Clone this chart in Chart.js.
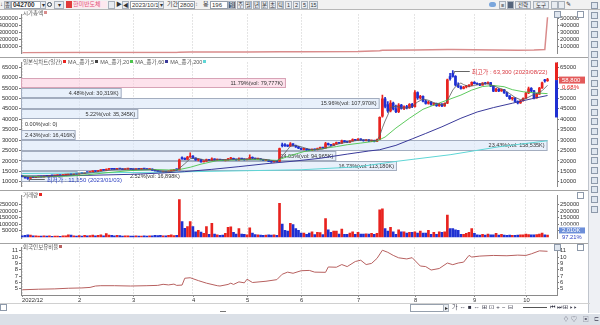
<!DOCTYPE html>
<html lang="ko">
<head>
<meta charset="utf-8">
<title>042700 한미반도체</title>
<script src="https://cdn.jsdelivr.net/npm/chart.js"></script>
<style>
  html, body { margin: 0; padding: 0; }
  body { position: relative; width: 600px; height: 325px; overflow: hidden; background: #fff;
         font-family: "Liberation Sans", "Noto Sans CJK KR", sans-serif; color: #333; }
  canvas { position: absolute; left: 0; }
  .t { position: absolute; font-size: 6px; line-height: 7px; white-space: nowrap; }
  .ib { position: absolute; top: 1px; height: 6px; border: 1px solid #96a0ad; background: #fff; font-size: 6px; line-height: 6px; padding-left: 1px; white-space: nowrap; }
  .bt { position: absolute; top: 1px; height: 6px; border: 1px solid #a9b1bb; background: #e8ecf1; font-size: 5.5px; line-height: 6px; text-align: center; white-space: nowrap; }
  .sq { display: inline-block; width: 3px; height: 3px; margin: 0 2px 0 1px; vertical-align: 1px; }
  .hl { position: absolute; left: 0; width: 590px; height: 1px; background: #a3a3a3; }
  .ic { position: absolute; width: 5px; height: 5px; border: 1px solid #8d99aa; background: #dfe6ef; }
</style>
</head>
<body>
<!-- toolbar -->
<div style="position:absolute;left:0;top:0;width:600px;height:9px;background:#f1f1f1;border-bottom:1px solid #b7b7b7"></div>
<span class="t" style="left:0;top:1px">↓</span>
<span class="bt" style="left:4px;width:5px">종</span>
<span class="ib" style="left:11px;width:27px;font-weight:bold;font-size:6.5px">042700</span>
<span class="bt" style="left:40px;width:4px">▾</span>
<span style="position:absolute;left:47px;top:2px;width:3px;height:3px;border:1px solid #345;border-radius:50%"></span>
<span class="bt" style="left:54px;width:8px">▾</span>
<span style="position:absolute;left:66px;top:1px;width:6px;height:7px;background:#e03a3a"></span>
<span class="t" style="left:73px;top:1px;width:34px;color:#e2557a;background:#fde8ee">한미반도체</span>
<span class="bt" style="left:108px;width:5px"></span>
<span class="t" style="left:116px;top:1px">▶</span>
<span class="bt" style="left:122px;width:5px">◀</span>
<span class="ib" style="left:130px;width:27px">2023/10/17</span>
<span class="bt" style="left:158px;width:4px">▾</span>
<span class="t" style="left:167px;top:1px">기간</span>
<span class="ib" style="left:178px;width:14px">2800</span>
<span class="t" style="left:195px;top:1px;color:#999">↕</span>
<span class="t" style="left:203px;top:1px">봉</span>
<span class="ib" style="left:210px;width:15px">196</span>
<span class="bt" style="left:228px;width:6px;background:#4c5c74;color:#fff">일</span>
<div id="tbBtns"></div>
<span style="position:absolute;left:489px;top:2px;width:7px;height:5px;border-radius:3px;background:#7aa6dc"></span>
<span class="bt" style="left:499px;width:5px">≡</span>
<span class="bt" style="left:507px;width:5px;background:#56657c"></span>
<span class="bt" style="left:515px;width:14px">전략</span>
<span class="bt" style="left:533px;width:14px">도구</span>
<span class="bt" style="left:551px;width:5px"></span>
<span class="bt" style="left:558px;width:5px"></span>
<span class="t" style="left:566px;top:1px">✎</span>

<canvas id="cap" width="590" height="48" style="top:10px"></canvas>
<canvas id="price" width="590" height="133" style="top:58px"></canvas>
<canvas id="vol" width="590" height="52" style="top:191px"></canvas>
<canvas id="ratio" width="590" height="60" style="top:243px"></canvas>

<div class="hl" style="top:57px"></div>
<div class="hl" style="top:190px"></div>
<div class="hl" style="top:243px"></div>

<!-- panel titles -->
<span class="t" style="left:23px;top:10px;color:#555;font-size:5.5px">시가총액<i class="sq" style="background:#d98c8c"></i></span>
<span class="t" style="left:23px;top:58.5px;color:#555;font-size:5.5px">일본식차트(일간)<i class="sq" style="background:#e8231f"></i>MA_종가,5<i class="sq" style="background:#444"></i>MA_종가,20<i class="sq" style="background:#4cc44c"></i>MA_종가,60<i class="sq" style="background:#3a3a9a"></i>MA_종가,200<i class="sq" style="background:#5fd6d6"></i></span>
<span class="t" style="left:23px;top:191.5px;color:#555;font-size:5.5px">거래량<i class="sq" style="background:#e8231f"></i></span>
<span class="t" style="left:23px;top:243.5px;color:#555;font-size:5.5px">외국인보유비율<i class="sq" style="background:#b7605f"></i></span>

<!-- panel buttons -->
<span class="ic" style="left:554px;top:11px"></span>
<span class="ic" style="left:577px;top:11px;background:#fff"></span>
<span class="ic" style="left:577px;top:192px;background:#fff"></span>
<span class="ic" style="left:577px;top:244px;background:#fff"></span>
<span class="ic" style="left:554px;top:244px"></span>

<!-- right tool strip -->
<div style="position:absolute;left:588px;top:10px;width:12px;height:303px;background:#eef0f4;border-left:1px solid #bfc4cc"></div>
<div id="strip"></div>

<!-- bottom controls -->
<div style="position:absolute;left:0;top:303px;width:590px;height:1px;background:#d0d0d0"></div>
<span class="ic" style="left:0;top:304px;background:#fff"></span>
<span class="ib" style="left:410px;top:304px;width:32px"></span>
<span class="bt" style="left:443px;top:304px;width:4px">▸</span>
<span class="t" style="left:452px;top:303.5px;letter-spacing:2.2px;color:#334">가⇔■⇔⊞⊡+−⊟</span>
<div style="position:absolute;left:523px;top:307px;width:24px;height:1px;background:#555"></div>
<span class="t" style="left:550px;top:303.5px;letter-spacing:1.5px;color:#334">⏮⏭⊞▸▸</span>
<div style="position:absolute;left:0;top:314px;width:600px;height:11px;background:#dbe0e7"></div>
<div style="position:absolute;left:220px;top:311px;width:6px;height:1px;background:#777"></div>
<span class="t" style="left:563px;top:316px;color:#667;letter-spacing:2px">♢♡ ▣ ⊏</span>

<script>
const FONT = '"Liberation Sans", "Noto Sans CJK KR", sans-serif';
const RED = '#e8231f';
const BLUE = '#1f30d2';

// x axis: first bar of each month and its label
const monthStarts = [0, 21, 41, 63, 83, 103, 124, 145, 167, 186];
const monthLabels = ['2022/12', '2', '3', '4', '5', '6', '7', '8', '9', '10'];

// daily candles [open, high, low, close], 2022/12/29 .. 2023/10/17
const candles = [
  [12900,13100,12400,12500],[12500,12550,11800,11900],[11900,12050,11150,11700],[11700,12250,11650,12150],[12150,12400,11950,12050],
  [12050,12550,12000,12450],[12450,12700,12300,12600],[12600,12650,12350,12400],[12400,12850,12350,12750],[12750,12950,12600,12700],
  [12700,13050,12650,12950],[12950,13150,12800,12850],[12850,13050,12700,13000],[13000,13250,12900,13150],[13150,13300,12950,13000],
  [13000,13450,12950,13350],[13350,13550,13200,13450],[13450,13750,13400,13650],[13650,13800,13450,13550],[13550,13950,13500,13850],
  [13850,14000,13650,13750],
  // Feb
  [13750,14250,13700,14150],[14150,14300,13950,14050],[14050,14600,14000,14500],[14500,14700,14300,14400],
  [14400,14950,14350,14850],[14850,15250,14750,15150],[15150,15200,14850,14950],[14950,15500,14900,15400],[15400,15800,15300,15700],
  [15700,15850,15450,15550],[15550,16200,15500,16050],[16050,16350,15900,16200],[16200,16400,15950,16050],[16050,16300,15850,15950],
  [15950,16350,15900,16250],[16250,16450,16050,16150],[16150,16250,15850,15900],[15900,16200,15850,16100],[16100,16350,16000,16250],
  [16250,16350,15950,16000],
  // Mar
  [16000,16150,15750,15850],[15850,16200,15800,16100],[16100,16300,15950,16000],[16000,16250,15900,16200],
  [16200,16400,16050,16100],[16100,16200,15800,15900],[15900,16250,15850,16150],[16150,16200,15500,15600],[15600,15700,15100,15200],
  [15200,15350,14800,14900],[14900,15050,14550,14650],[14650,14950,14500,14850],[14850,15000,14600,14700],[14700,15250,14650,15150],
  [15150,15600,15100,15500],[15500,15900,15400,15800],[15800,16200,15650,15750],[15750,20900,15700,20600],[21600,22000,20800,21100],
  [21300,21500,20600,20800],[20800,22200,20700,21900],[21900,23900,21700,22300],
  // Apr
  [22300,22600,21200,21400],[21400,21500,20300,20500],
  [20500,21000,20000,20700],[20700,20800,19400,19600],[19600,20100,19500,19900],[19900,20900,19800,20700],[20700,20800,20200,20300],
  [20300,21500,20200,21000],[21000,21100,20400,20500],[20500,20900,20300,20800],[20800,20850,20350,20400],[20400,20500,20100,20200],
  [20200,20600,20000,20500],[20500,21300,20400,21100],[21100,21700,20900,21300],[21300,21400,20600,20800],[20800,20900,20400,20500],
  [20500,21500,20400,21200],[21200,21300,20700,20900],[20900,21000,20400,20600],
  // May
  [20600,20900,20500,20800],[20800,23000,20700,21800],
  [21800,22000,21100,21300],[21300,21400,20700,20900],[20900,21200,20700,21100],[21100,21200,20500,20600],[20600,20700,20100,20300],
  [20300,20600,20100,20400],[20400,20500,19700,19800],[19800,19900,19300,19500],[19500,19900,19400,19800],[19800,20000,19500,19700],
  [19800,26200,19700,25900],[27800,28600,26800,27300],[27900,28300,27000,27200],[27600,27800,26900,27100],[27100,28800,27000,28200],
  [28200,28400,27100,27300],[27400,27600,26500,26700],[26800,27000,25900,26100],
  // Jun
  [26100,26300,25400,25600],[25600,26000,25300,25800],
  [25800,25900,25100,25300],[25300,25500,24900,25100],[25100,25800,25000,25600],[25600,25700,25200,25400],[25400,26200,25300,26000],
  [26000,26700,25900,26500],[26500,26600,26000,26200],[26200,29000,26100,28400],[28400,28600,27600,27800],[27800,28000,27300,27500],
  [27500,28400,27400,28200],[28200,29100,28000,28800],[28800,28900,28300,28500],[28500,30000,28400,29600],[29600,29800,29000,29200],
  [29200,29400,28800,29000],[29000,29800,28900,29600],[29600,30600,29500,30300],[30300,30400,29700,29900],
  // Jul
  [29900,30700,29800,30500],
  [30500,30600,29900,30100],[30100,30200,29500,29700],[29700,30300,29600,30200],[30200,30300,29400,29500],[29500,30000,29300,29900],
  [29900,30000,29200,29400],[29400,30500,29300,30300],[30300,41200,30200,40900],[41500,51600,41000,49800],[49800,50500,45500,46200],
  [47000,48500,43300,44000],[44000,49000,43500,47800],[47800,48200,44500,45000],[45000,46800,43200,43600],[43600,47500,43200,46800],
  [46800,47200,44800,45200],[45200,46500,44600,46100],[46100,46700,45000,45400],[45400,47500,45200,47200],[47200,47600,45600,46000],
  // Aug
  [46000,53800,45800,52800],[52800,53200,49500,50200],[50200,51500,49600,51000],[51000,51300,48300,48700],[48700,49200,47200,47600],
  [47600,48700,47300,48300],[48300,48500,46800,47100],[47100,47900,46600,47600],[47600,47800,46200,46500],[46500,47600,46200,47300],
  [47300,47500,46100,46400],[46400,47900,46200,47700],[47700,59300,47500,58900],[60500,62000,58800,59500],[62000,63300,60200,60600],
  [60600,60900,56000,56500],[56500,57500,55200,55600],[55600,56000,54400,54800],[54800,55800,54500,55500],[55500,56300,55000,55900],
  [55900,56600,55500,56300],[56300,58000,56100,57700],
  // Sep
  [57700,58100,56900,57100],[57100,57500,56500,56800],[56800,57200,56100,56400],
  [56400,57600,56300,57400],[57400,57700,56800,57000],[57000,57900,56900,57600],[57600,57700,55600,55900],[55900,56100,53200,53500],
  [53500,54800,53200,54500],[54500,54700,53300,53600],[53600,54500,53400,54200],[54200,54300,52400,52700],[52700,53000,50800,51200],
  [51200,51400,49500,49900],[49900,50500,49200,50200],[50200,50400,48300,48600],[48600,48900,47400,47800],[47800,49200,47600,48900],
  [48900,50300,48700,50100],
  // Oct
  [50100,52900,50000,52600],[52600,55500,52300,54600],[54800,55200,53300,53600],[53600,53900,49800,50300],
  [50300,52400,50100,52100],[52100,55300,51900,55000],[55000,57800,54800,57500],[58700,59100,57800,58400],[58500,59600,58100,58800]
];

const volumes = [
  9000,12000,16000,14000,8000, 9000,7000,6000,8000,6000, 9000,5000,6000,7000,5000, 8000,9000,15000,14000,9000,
  7000,10000,6000,12000,8000, 10000,14000,8000,11000,16000, 9000,25000,14000,12000,9000, 11000,10000,7000,9000,8000,
  7000,6000,8000,7000,6000, 9000,6000,8000,9000,11000, 10000,12000,9000,8000,12000, 15000,10000,11000,
  290000,120000,66000,80000,120000, 80000,40000,50000,37000,28000, 80000,20000,105000,22000,15000,
  12000,14000,28000,75000,78000, 35000,22000,65000,22000,20000, 15000,70000,30000,18000,16000,
  14000,12000,13000,15000,14000, 16000,12000,
  262000,100000,50000,45000,105000, 95000,65000,50000,30000,30000, 20000,30000,40000,18000,35000,
  33000,18000,143000,55000,35000, 45000,45000,22000,60000,20000, 20000,30000,40000,20000,35000,
  22000,22000,24000,22000,28000, 20000,28000,
  210000,219000,65000,45000,75000, 40000,20000,55000,40000,40000, 30000,35000,35000,40000,30000,
  45000,30000,30000,50000,20000, 35000,20000,40000,35000,40000,
  170000,65000,65000,55000,50000, 20000,20000,28000,35000,65000, 28000,15000,13000,20000,13000,
  22000,15000,15000,28000,13000, 20000,13000,12000,14000,12000, 12000,14000,16000,15000,22000,
  18000,16000,15000,17000,22000, 30000,15000,13000
];

// moving averages, [bar index, value]
const ma5 = [[0,12700],[3,12300],[6,12150],[9,12500],[12,12800],[15,13000],[18,13400],[21,13750],[24,14150],[27,14600],
  [30,15150],[33,15700],[36,16100],[39,16100],[42,16050],[45,16050],[48,15950],[50,15400],[52,15050],[54,14800],[56,15150],
  [57,15500],[58,16500],[60,18700],[62,21100],[64,21400],[66,20900],[68,20300],[70,20300],[73,20700],[76,20600],[78,20800],
  [80,20900],[83,20900],[85,21000],[87,21200],[90,20700],[93,20050],[94,19800],[95,21000],[96,22400],[97,23900],[98,25500],
  [99,27100],[101,27500],[103,26800],[105,26000],[107,25500],[109,25500],[111,25700],[112,26300],[114,27000],[116,27900],
  [118,28600],[120,29000],[122,29500],[124,29900],[126,30100],[128,30000],[130,29800],[131,29900],[132,32000],[133,35900],
  [134,39200],[135,42000],[136,45700],[138,46300],[140,45500],[142,45400],[144,46000],[145,47300],[146,48300],[148,49700],
  [150,49100],[152,47900],[154,47300],[156,46900],[157,49200],[158,51500],[159,54000],[160,55600],[161,56600],[162,57400],
  [163,56600],[165,55700],[167,56200],[169,57000],[172,57100],[174,56100],[176,55000],[178,54100],[180,52300],[182,50500],
  [184,49400],[186,49900],[188,51300],[189,51900],[191,52900],[192,53700],[194,56300]];
const ma20 = [[0,12900],[8,12400],[16,12700],[24,13400],[32,14500],[40,15400],[48,15950],[54,15700],[58,15900],[62,17000],
  [66,18500],[72,20200],[80,20600],[86,20700],[94,20300],[99,22600],[104,24500],[110,25800],[116,26900],[120,27800],
  [125,28600],[131,29600],[134,31500],[138,35800],[143,40500],[148,44800],[153,47300],[158,49700],[162,51600],[166,54000],
  [170,55700],[174,56200],[178,55600],[181,54200],[185,53200],[189,52700],[194,52300]];
const ma60 = [[0,12800],[20,13000],[40,13600],[51,14200],[60,14900],[70,16000],[80,17300],[90,18700],[100,19900],[110,21300],
  [120,23300],[128,24800],[132,25400],[138,27500],[144,30600],[149,33200],[155,36400],[162,40500],[168,43500],[174,45600],
  [181,47700],[188,49800],[194,51400]];
const ma200 = [[0,14000],[50,14600],[103,15800],[124,17200],[138,19800],[158,23000],[176,26800],[194,29700]];

// 시가총액 and 외국인보유비율, [bar index, value]
const marketCap = [[0,12150],[20,13400],[41,15550],[57,15300],[58,20000],[62,21700],[83,20200],[95,25200],[103,24900],
  [124,29600],[132,39800],[133,48400],[145,51300],[157,57200],[159,58900],[167,55500],[183,46500],[189,48900],[193,56800],
  [194,521000]];
const foreignRatio = [[0,4.86],[6,4.95],[12,5.0],[17,5.1],[22,5.15],[25,5.23],[27,5.45],[29,5.5],[34,5.5],[40,5.45],
  [46,5.5],[50,5.55],[52,5.72],[54,5.62],[56,5.75],[57,5.55],[59,5.6],[60,6.67],[62,6.75],[65,6.3],[68,5.9],[72,5.5],
  [73,5.45],[76,5.7],[77,5.9],[78,5.7],[80,6.1],[82,5.95],[83,6.52],[85,6.0],[90,6.2],[94,6.45],[96,7.3],[98,7.63],
  [100,7.45],[103,7.85],[106,7.9],[108,7.63],[112,7.6],[113,8.44],[116,8.4],[118,8.82],[120,8.5],[123,9.3],[125,9.5],
  [127,8.82],[129,9.0],[131,9.78],[133,11.07],[135,10.74],[137,10.26],[139,9.88],[142,9.7],[144,9.9],[147,8.59],
  [149,8.5],[151,7.96],[154,8.2],[157,9.06],[159,8.8],[161,9.06],[163,9.2],[165,10.26],[166,10.0],[169,10.15],
  [174,10.25],[179,10.2],[183,10.3],[186,10.25],[188,10.5],[191,10.97],[194,10.9]];

// price / volume bands (매물대)
const bandSize = 5000;
const bandLow = [55000, 50000, 45000, 40000, 35000, 30000, 25000, 20000, 15000, 10000];
const bandPct = [11.79, 4.48, 15.96, 5.22, 0.00, 2.43, 23.43, 14.03, 16.73, 2.52];
const bandVol = ['79,777K', '30,319K', '107,970K', '35,345K', '0', '16,416K', '158,535K', '94,965K', '113,180K', '16,898K'];

const highNote = { label: '최고가', date: '2023/08/22' };
const lowNote = { label: '최저가', date: '2023/01/03' };

const capTicks = [100000, 200000, 300000, 400000, 500000];
const priceTicks = [10000, 15000, 20000, 25000, 30000, 35000, 40000, 45000, 50000, 55000, 60000, 65000];
const volTicks = [50000, 100000, 150000, 200000, 250000];
const ratioTicks = [5, 6, 7, 8, 9, 10, 11];
const volTag = '2,010K';
const volTagRatio = '97.21%';

// ---- decoration: toolbar buttons and right strip ----
['주', '월', '년', '분', '초', '틱', '1', '2', '5', '15'].forEach((s, i) => {
  const b = document.createElement('span');
  b.className = 'bt';
  b.style.left = (237 + i * 8) + 'px';
  b.style.width = (s.length > 1 ? 7 : 5) + 'px';
  b.textContent = s;
  document.getElementById('tbBtns').appendChild(b);
});
for (let yy = 2; yy < 215; yy += 9.7) {
  const d = document.createElement('span');
  d.className = 'ic';
  d.style.left = '591px';
  d.style.top = yy + 'px';
  document.getElementById('strip').appendChild(d);
}

// ---- chart helpers ----
const pts = arr => arr.map(p => ({ x: p[0], y: p[1] }));
const barColor = candles.map(c => c[3] >= c[0] ? RED : BLUE);

function xAxis() {
  return {
    type: 'linear', min: -0.5, max: 197.5, offset: false,
    afterBuildTicks: s => { s.ticks = monthStarts.map(v => ({ value: v })); },
    ticks: { display: false },
    grid: { color: '#cacaca', drawTicks: false, offset: false },
    border: { display: false, dash: [1, 2] }
  };
}

function yAxis(pos, min, max, ticks) {
  return {
    position: pos, min: min, max: max,
    afterBuildTicks: s => { s.ticks = ticks.map(v => ({ value: v })); },
    afterFit: s => { s.width = pos === 'left' ? 21 : 33; },
    grid: { drawOnChartArea: false, tickLength: 2, color: '#7a7a7a' },
    border: { color: '#8a8a8a' },
    ticks: { font: { size: 5.8, family: FONT }, color: '#333', padding: 1, autoSkip: false, maxRotation: 0,
      callback: v => String(v) }
  };
}

function options(min, max, ticks, padBottom) {
  return {
    responsive: false, animation: false, events: [],
    layout: { padding: { left: 0, right: 0, top: 0, bottom: padBottom || 0 } },
    plugins: { legend: { display: false }, tooltip: { enabled: false } },
    scales: { x: xAxis(), y: yAxis('left', min, max, ticks), y2: yAxis('right', min, max, ticks) }
  };
}

function lineSet(data, color, width, order) {
  return { type: 'line', data: pts(data), borderColor: color, borderWidth: width, pointRadius: 0,
    tension: 0, fill: false, yAxisID: 'y', order: order || 0 };
}

function extremes() {
  let hi = 0, lo = 0;
  candles.forEach((c, i) => {
    if (c[1] > candles[hi][1]) hi = i;
    if (c[2] < candles[lo][2]) lo = i;
  });
  return { hi: hi, lo: lo };
}

function noteText(n, v) {
  return n.label + ' : ' + v.toLocaleString('en-US') + ' (' + n.date + ')';
}

function lowNoteBox(chart) {
  const { ctx, scales: { x, y } } = chart;
  const i = extremes().lo;
  ctx.save();
  ctx.font = '6px ' + FONT;
  const w = ctx.measureText(noteText(lowNote, candles[i][2])).width;
  ctx.restore();
  const px = x.getPixelForValue(i);
  return { x1: px + 19, x2: px + 19 + w, y: y.getPixelForValue(candles[i][2]) };
}

// ---- 시가총액 ----
new Chart(document.getElementById('cap'), {
  type: 'line',
  data: { datasets: [lineSet(marketCap, '#d98c8c', 1.5)] },
  options: options(0, 560000, capTicks)
});

// ---- price panel ----
const pricePlugin = {
  id: 'pricePanel',
  beforeDatasetsDraw(chart) {
    const { ctx, scales: { x, y }, chartArea: a } = chart;
    const last = candles[candles.length - 1][3];
    const maxPct = Math.max(...bandPct);
    const end = x.getPixelForValue(candles.length - 1);
    const lo = lowNoteBox(chart);
    ctx.save();
    ctx.font = '5.5px ' + FONT;
    ctx.textBaseline = 'middle';
    bandLow.forEach((b, i) => {
      const top = Math.round(y.getPixelForValue(b + bandSize));
      const bot = Math.round(y.getPixelForValue(b));
      const right = a.left + (end - a.left) * bandPct[i] / maxPct;
      const hot = last >= b && last < b + bandSize;
      if (bandPct[i] > 0) {
        ctx.fillStyle = hot ? 'rgba(251,206,224,0.6)' : 'rgba(217,230,248,0.6)';
        ctx.fillRect(a.left, top, right - a.left, bot - top);
        ctx.strokeStyle = hot ? '#d7a3b6' : '#a3adbf';
        ctx.lineWidth = 1;
        ctx.strokeRect(a.left + 0.5, top + 0.5, right - a.left - 1, bot - top - 1);
      }
      const text = bandPct[i].toFixed(2) + '%(vol: ' + bandVol[i] + ')';
      const w = ctx.measureText(text).width;
      let tx = right - a.left > w + 6 ? right - w - 3 : a.left + 4;
      const ty = (top + bot) / 2;
      if (Math.abs(ty - lo.y) < 6 && tx < lo.x2 && tx + w > lo.x1) tx = lo.x2 + 8;
      ctx.fillStyle = '#333';
      ctx.fillText(text, tx, ty);
    });
    ctx.restore();
  },
  afterDatasetsDraw(chart) {
    const { ctx, scales: { x, y } } = chart;
    const e = extremes();
    ctx.save();
    ctx.font = '6px ' + FONT;
    ctx.textBaseline = 'middle';
    [[e.hi, candles[e.hi][1], highNote, '#d8383f'], [e.lo, candles[e.lo][2], lowNote, '#2c3fc0']].forEach(n => {
      const px = x.getPixelForValue(n[0]);
      const py = Math.round(y.getPixelForValue(n[1])) + 0.5;
      ctx.strokeStyle = '#666';
      ctx.lineWidth = 1;
      ctx.beginPath();
      ctx.moveTo(px + 1.5, py + 2);
      ctx.lineTo(px + 1.5, py);
      ctx.lineTo(px + 17, py);
      ctx.stroke();
      ctx.fillStyle = n[3];
      ctx.fillText(noteText(n[2], n[1]), px + 19, py + 1);
    });
    ctx.restore();
  },
  afterDraw(chart) {
    const { ctx, scales: { y }, chartArea: a } = chart;
    const n = candles.length;
    const last = candles[n - 1][3];
    const prev = candles[n - 2][3];
    const yTop = Math.max(a.top, y.getPixelForValue(prev * 1.3));
    const yCur = y.getPixelForValue(last);
    const yBot = Math.min(a.bottom, y.getPixelForValue(prev * 0.7));
    ctx.save();
    ctx.fillStyle = RED;
    ctx.fillRect(a.right - 2, yTop, 3, yCur - yTop);
    ctx.fillStyle = BLUE;
    ctx.fillRect(a.right - 2, yCur, 3, yBot - yCur);
    ctx.fillStyle = '#fff';
    ctx.fillRect(a.right + 2, yCur - 6, 30, 15);
    ctx.fillStyle = '#e35a5a';
    ctx.fillRect(a.right + 2, yCur - 3.5, 26, 7);
    ctx.font = '6px ' + FONT;
    ctx.textBaseline = 'middle';
    ctx.fillStyle = '#fff';
    ctx.fillText(last.toLocaleString('en-US'), a.right + 5, yCur);
    ctx.fillStyle = RED;
    ctx.fillText(((last - prev) / prev * 100).toFixed(2) + '%', a.right + 5, yCur + 7.5);
    ctx.restore();
  }
};

new Chart(document.getElementById('price'), {
  type: 'bar',
  data: {
    datasets: [
      lineSet(ma5, '#5a5a5a', 0.8),
      lineSet(ma20, '#4cc44c', 0.9),
      lineSet(ma60, '#3a3a9a', 1),
      lineSet(ma200, '#5fd6d6', 1),
      { type: 'bar', data: candles.map((c, i) => ({ x: i, y: [c[0], c[3]] })), backgroundColor: barColor,
        barThickness: 2, minBarLength: 1, grouped: false, yAxisID: 'y', order: 1 },
      { type: 'bar', data: candles.map((c, i) => ({ x: i, y: [c[2], c[1]] })), backgroundColor: barColor,
        barThickness: 1, grouped: false, yAxisID: 'y', order: 2 }
    ]
  },
  options: options(7764, 67236, priceTicks),
  plugins: [pricePlugin]
});

// ---- 거래량 ----
const volPlugin = {
  id: 'volTag',
  afterDraw(chart) {
    const { ctx, scales: { y }, chartArea: a } = chart;
    const cy = y.getPixelForValue(volTicks[0]);
    ctx.save();
    ctx.fillStyle = '#fff';
    ctx.fillRect(a.right + 2, cy - 5, 30, 15);
    ctx.fillStyle = '#6d8fd9';
    ctx.fillRect(a.right + 2, cy - 3, 26, 6);
    ctx.font = '5.8px ' + FONT;
    ctx.textBaseline = 'middle';
    ctx.fillStyle = '#fff';
    ctx.fillText(volTag, a.right + 5, cy);
    ctx.fillStyle = '#2c3fc0';
    ctx.fillText(volTagRatio, a.right + 5, cy + 6.5);
    ctx.restore();
  }
};

new Chart(document.getElementById('vol'), {
  type: 'bar',
  data: {
    datasets: [{ data: volumes.map((v, i) => ({ x: i, y: v })), backgroundColor: barColor,
      barThickness: 2, grouped: false, yAxisID: 'y' }]
  },
  options: options(-12900, 322600, volTicks),
  plugins: [volPlugin]
});

// ---- 외국인보유비율 ----
const datePlugin = {
  id: 'dates',
  afterDraw(chart) {
    const { ctx, scales: { x }, chartArea: a } = chart;
    ctx.save();
    ctx.strokeStyle = '#8a8a8a';
    ctx.lineWidth = 1;
    ctx.beginPath();
    ctx.moveTo(a.left, a.bottom + 0.5);
    ctx.lineTo(a.right, a.bottom + 0.5);
    ctx.stroke();
    ctx.font = '5.8px ' + FONT;
    ctx.fillStyle = '#333';
    ctx.textBaseline = 'top';
    monthStarts.forEach((v, i) => {
      const px = Math.round(x.getPixelForValue(v)) + 0.5;
      ctx.beginPath();
      ctx.moveTo(px, a.bottom);
      ctx.lineTo(px, a.bottom + 2);
      ctx.stroke();
      ctx.textAlign = i === 0 ? 'left' : 'center';
      ctx.fillText(monthLabels[i], i === 0 ? px - 0.5 : px, a.bottom + 2);
    });
    ctx.restore();
  }
};

new Chart(document.getElementById('ratio'), {
  type: 'line',
  data: { datasets: [lineSet(foreignRatio, '#b7605f', 1)] },
  options: options(4.04, 11.5, ratioTicks, 8),
  plugins: [datePlugin]
});
</script>
</body>
</html>
